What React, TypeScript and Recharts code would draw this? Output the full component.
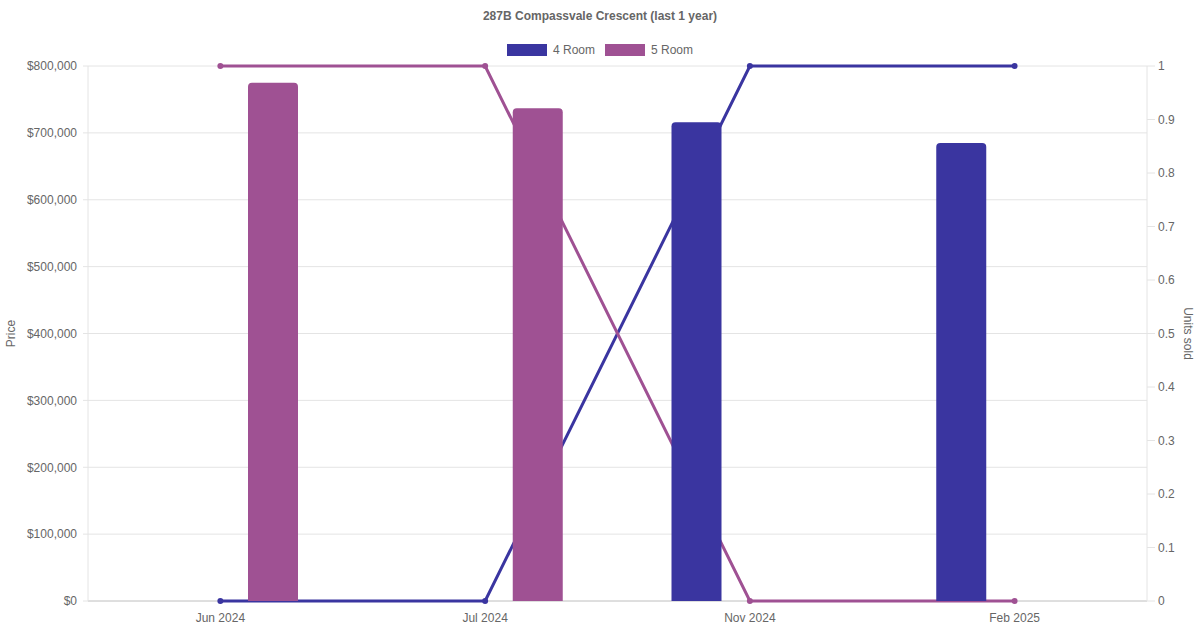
import {
  ComposedChart,
  Bar,
  Line,
  XAxis,
  YAxis,
  CartesianGrid,
} from 'recharts';

const months = ['Jun 2024', 'Jul 2024', 'Nov 2024', 'Feb 2025'];
const price4Room = [null, null, 716000, 685000];
const price5Room = [775000, 737000, null, null];
const units4Room = [0, 0, 1, 1];
const units5Room = [1, 1, 0, 0];
const priceTicks = [0, 100000, 200000, 300000, 400000, 500000, 600000, 700000, 800000];
const unitTicks = [0, 0.1, 0.2, 0.3, 0.4, 0.5, 0.6, 0.7, 0.8, 0.9, 1];

const COLOR_4 = '#3a35a0';
const COLOR_5 = '#9f5193';
const FONT = '"Liberation Sans", Arial, Helvetica, sans-serif';
const TEXT = '#666';

const data = months.map((m, i) => ({
  month: m,
  p4: price4Room[i],
  p5: price5Room[i],
  u4: units4Room[i],
  u5: units5Room[i],
}));

const tickStyle = { fill: TEXT, fontSize: 12, fontFamily: FONT };

export default function App() {
  return (
    <div style={{ position: 'absolute', left: 0, top: 0, width: 1200, height: 630, background: '#fff', fontFamily: FONT }}>
      {/* title + legend drawn as plain html on top */}
      <div style={{ position: 'absolute', top: 9, width: 1200, textAlign: 'center', fontSize: 12, fontWeight: 700, color: TEXT }}>
        287B Compassvale Crescent (last 1 year)
      </div>
      <div style={{ position: 'absolute', top: 43, width: 1200, display: 'flex', justifyContent: 'center', gap: 10, fontSize: 12, color: TEXT }}>
        {[['4 Room', COLOR_4], ['5 Room', COLOR_5]].map(([name, c]) => (
          <div key={name} style={{ display: 'flex', alignItems: 'center', gap: 6 }}>
            <span style={{ width: 40, height: 12, background: c, display: 'inline-block' }} />
            <span>{name}</span>
          </div>
        ))}
      </div>
      <ComposedChart
        width={1200}
        height={630}
        data={data}
        margin={{ top: 66, right: 0, bottom: 0, left: 0 }}
        barGap={56}
      >
        <CartesianGrid yAxisId="price" vertical={false} stroke="#e4e4e4" />
        <XAxis
          dataKey="month"
          tick={tickStyle}
          tickLine={false}
          tickMargin={6}
          axisLine={{ stroke: '#ccc' }}
          height={29}
          zIndex={100}
        />
        <YAxis
          yAxisId="price"
          orientation="left"
          width={88}
          domain={[0, 800000]}
          ticks={priceTicks}
          tickFormatter={(v: number) => `$${v.toLocaleString('en-US')}`}
          tick={tickStyle}
          tickSize={5}
          tickMargin={6}
          tickLine={{ stroke: '#e4e4e4' }}
          axisLine={{ stroke: '#e4e4e4' }}
          label={{ value: 'Price', angle: -90, position: 'insideLeft', offset: 11, style: { textAnchor: 'middle', fill: TEXT, fontSize: 12, fontFamily: FONT } }}
        />
        <YAxis
          yAxisId="units"
          orientation="right"
          width={53}
          domain={[0, 1]}
          ticks={unitTicks}
          tick={tickStyle}
          tickSize={8}
          tickMargin={3}
          tickLine={{ stroke: '#e4e4e4' }}
          axisLine={{ stroke: '#e4e4e4' }}
          label={{ value: 'Units sold', angle: 90, position: 'insideRight', offset: 12, style: { textAnchor: 'middle', fill: TEXT, fontSize: 12, fontFamily: FONT } }}
        />
        <Line
          yAxisId="units"
          dataKey="u4"
          stroke={COLOR_4}
          strokeWidth={3}
          dot={{ r: 3, fill: COLOR_4, stroke: COLOR_4, strokeWidth: 0 }}
          activeDot={false}
          isAnimationActive={false}
          zIndex={200}
        />
        <Line
          yAxisId="units"
          dataKey="u5"
          stroke={COLOR_5}
          strokeWidth={3}
          dot={{ r: 3, fill: COLOR_5, stroke: COLOR_5, strokeWidth: 0 }}
          activeDot={false}
          isAnimationActive={false}
          zIndex={200}
        />
        <Bar yAxisId="price" dataKey="p4" fill={COLOR_4} barSize={50} radius={[4, 4, 0, 0]} isAnimationActive={false} />
        <Bar yAxisId="price" dataKey="p5" fill={COLOR_5} barSize={50} radius={[4, 4, 0, 0]} isAnimationActive={false} />
      </ComposedChart>
    </div>
  );
}
